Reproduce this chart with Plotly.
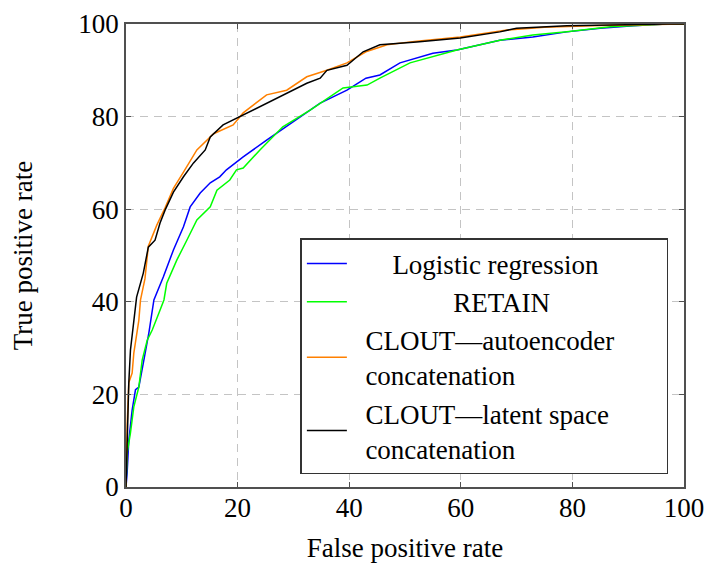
import plotly.graph_objects as go

# ---- data ----
lr_fpr = [0, 0.2, 0.5, 1.1, 1.7, 2.3, 3.2, 4.1, 5.0, 6.7, 8.5, 10.3, 11.5, 13.3, 15.1, 16.8,
          18.0, 21.0, 25.2, 30.6, 34.8, 39.6, 43.0, 45.5, 49.1, 55.0, 59.3, 67.0, 72.9, 79.0,
          85.0, 90.9, 97.0, 100]
lr_tpr = [0, 3, 10, 16.6, 21, 21.6, 27.4, 33.3, 40.4, 45.4, 51.2, 56.2, 60.5, 63.5, 65.7, 67,
          68.5, 71.3, 74.9, 79.3, 82.9, 85.7, 88.3, 89, 91.6, 93.7, 94.4, 96.5, 97.2, 98.3,
          99.1, 99.6, 100, 100]

retain_fpr = [0, 0.2, 0.8, 1.4, 2.3, 2.9, 3.8, 4.7, 5.9, 6.8, 7.3, 9.1, 10.9, 12.7, 15.1, 16.3,
              18.6, 19.8, 21.0, 24.0, 28.1, 33.0, 38.9, 43.2, 45.5, 50.9, 59.3, 67.0, 72.9,
              79.0, 86.8, 97.0, 100]
retain_tpr = [0, 7.3, 11.7, 17.3, 21.6, 27.4, 31.7, 33.9, 37.6, 40.4, 44, 49, 53.3, 57.7, 60.5,
              64.1, 66.3, 68.5, 68.9, 72.8, 77.8, 81.4, 86.2, 86.8, 88.3, 91.6, 94.4, 96.5,
              97.6, 98.3, 99.4, 100, 100]

ae_fpr = [0, 0.1, 0.2, 0.5, 1.1, 1.4, 2.0, 2.3, 2.6, 3.4, 4.0, 5.5, 7.0, 8.5, 10.3, 12.7, 15.7,
          19.2, 21.0, 25.2, 28.8, 32.4, 36.0, 39.6, 43.0, 46.8, 52.1, 59.9, 68.3, 75.0, 85.0,
          97.0, 100]
ae_tpr = [0, 10, 13, 22.5, 24.6, 28.9, 33.3, 36, 40.4, 45, 52, 56.5, 60.3, 64.5, 68, 72.8, 76.3,
          78.2, 80.8, 84.7, 85.7, 88.6, 90, 91.6, 94, 95.5, 96.3, 97.2, 98.7, 99.3, 99.7,
          100, 100]

ls_fpr = [0, 0.2, 0.5, 0.8, 1.4, 1.9, 3.1, 4.0, 5.2, 6.1, 7.0, 8.5, 10.3, 12.1, 14.2, 15.1, 17.4,
          20.4, 25.2, 28.8, 32.4, 34.8, 36.0, 39.6, 42.5, 45.5, 52.1, 59.9, 67.0, 70.0, 79.0,
          97.0, 100]
ls_tpr = [0, 10, 22.5, 29.6, 36, 41, 46.2, 51.8, 53.3, 57, 59.8, 63.7, 67, 70, 72.8, 75.6, 78.2,
          80, 82.9, 85.1, 87.2, 88.3, 90, 91.1, 94, 95.5, 96.1, 97, 98.3, 99.1, 99.6,
          100, 100]

ticks = [0, 20, 40, 60, 80, 100]
NB = "\u00a0"
names = [NB * 6 + "Logistic regression",
         NB * 15 + "RETAIN",
         NB * 2 + "CLOUT—autoencoder" + NB * 7 + "<br>" + NB * 2 + "concatenation",
         NB * 2 + "CLOUT—latent space<br>" + NB * 2 + "concatenation"]
colors = ["#0000ff", "#00ff00", "#ff8000", "#000000"]

FONT = "Liberation Serif"

fig = go.Figure()
for xs, ys, nm, c in zip([lr_fpr, retain_fpr, ae_fpr, ls_fpr],
                         [lr_tpr, retain_tpr, ae_tpr, ls_tpr], names, colors):
    fig.add_trace(go.Scatter(x=xs, y=ys, mode="lines", name=nm,
                             line=dict(color=c, width=1.5)))

axis_common = dict(
    range=[0, 100], tickvals=ticks, ticktext=[str(t) for t in ticks],
    showgrid=True, gridcolor="#c4c4c4", gridwidth=1, griddash="8px,6px",
    showline=True, linecolor="#505050", linewidth=1.6, mirror="ticks",
    ticks="inside", ticklen=5, tickcolor="#505050", zeroline=False,
    ticklabeloverflow="allow",
    tickfont=dict(family=FONT, size=27, color="black"),
)

fig.update_xaxes(**axis_common, ticklabelstandoff=-4,
                 title=dict(text="False positive rate",
                            font=dict(family=FONT, size=27, color="black"), standoff=16))
fig.update_yaxes(**axis_common,
                 title=dict(text="True positive rate",
                            font=dict(family=FONT, size=27, color="black"), standoff=38))

fig.update_layout(
    width=707, height=567,
    margin=dict(l=126, r=23, t=24, b=80, autoexpand=False),
    plot_bgcolor="white", paper_bgcolor="white",
    font=dict(family=FONT, color="black"),
    legend=dict(x=0.972, y=0.028, xanchor="right", yanchor="bottom",
                bgcolor="white", bordercolor="#333333", borderwidth=1.5,
                font=dict(family=FONT, size=27, color="black"),
                tracegroupgap=0, itemwidth=40, valign="middle"),
)

# remove the default 8px page margin so the figure fills the window exactly
fig.write_html("out.html", config={"displayModeBar": False},
               post_script="document.body.style.margin='0';document.body.style.overflow='hidden';")
